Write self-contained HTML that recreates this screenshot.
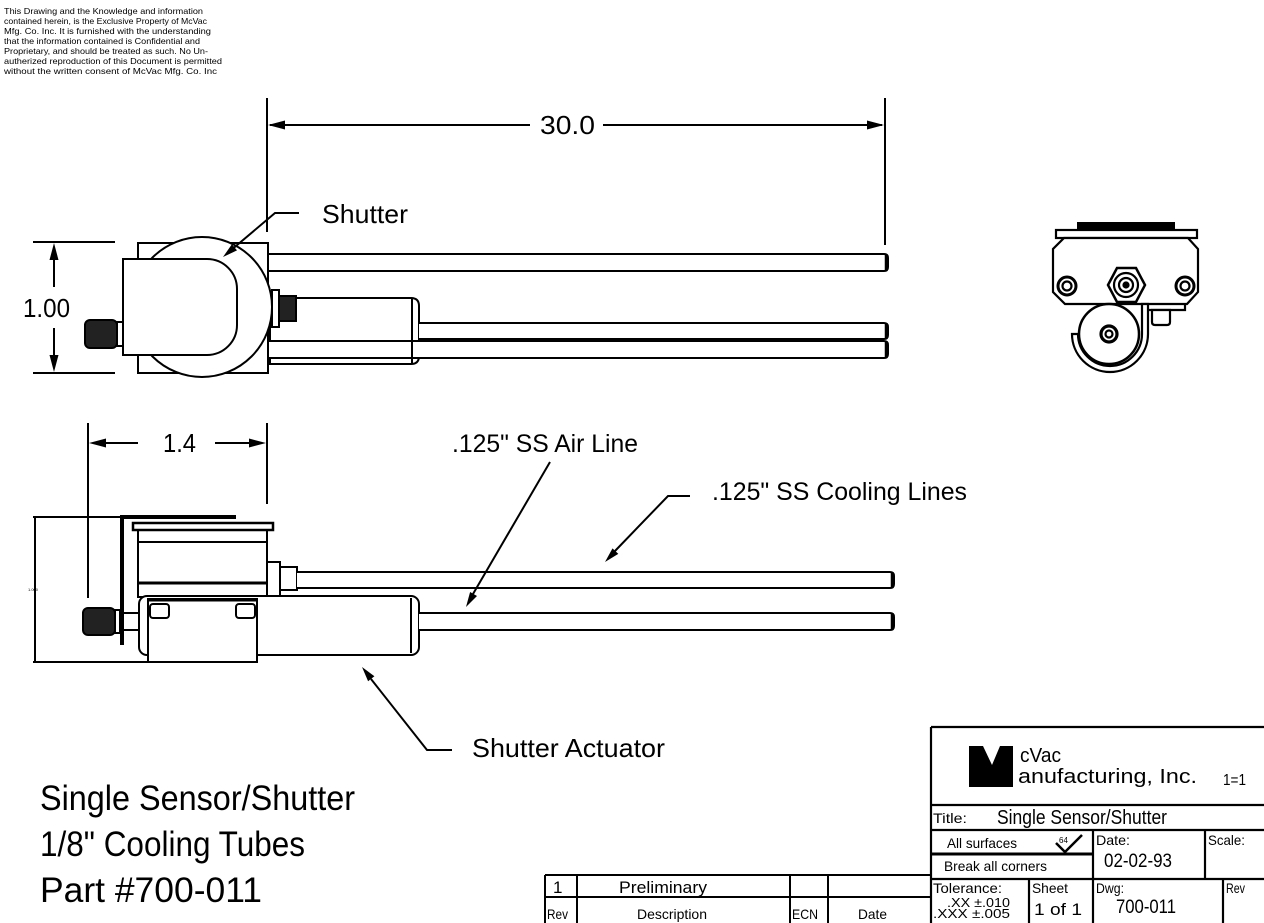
<!DOCTYPE html>
<html><head><meta charset="utf-8"><style>
html,body{margin:0;padding:0;background:#fff;}
svg{display:block;}
text{font-family:"Liberation Sans",sans-serif;fill:#000;}
</style></head><body>
<svg width="1264" height="923" viewBox="0 0 1264 923" xmlns="http://www.w3.org/2000/svg">
<rect width="1264" height="923" fill="#fff"/>

<!-- Legal text -->
<g font-size="8.5">
<text x="4" y="14" textLength="199" lengthAdjust="spacingAndGlyphs">This Drawing and the Knowledge and information</text>
<text x="4" y="24" textLength="203" lengthAdjust="spacingAndGlyphs">contained herein, is the Exclusive Property of McVac</text>
<text x="4" y="34" textLength="207" lengthAdjust="spacingAndGlyphs">Mfg. Co. Inc. It is furnished with the understanding</text>
<text x="4" y="44" textLength="196" lengthAdjust="spacingAndGlyphs">that the information contained is Confidential and</text>
<text x="4" y="54" textLength="204" lengthAdjust="spacingAndGlyphs">Proprietary, and should be treated as such. No Un-</text>
<text x="4" y="64" textLength="218" lengthAdjust="spacingAndGlyphs">autherized reproduction of this Document is permitted</text>
<text x="4" y="74" textLength="213" lengthAdjust="spacingAndGlyphs">without the written consent of McVac Mfg. Co. Inc</text>
</g>

<g stroke="#000" fill="none" stroke-width="2">
<!-- 30.0 dimension -->
<line x1="267" y1="98" x2="267" y2="232"/>
<line x1="885" y1="98" x2="885" y2="245"/>
<line x1="270" y1="125" x2="530" y2="125"/>
<line x1="603" y1="125" x2="882" y2="125"/>
</g>
<polygon points="268,125 285,120.5 285,129.5" fill="#000"/>
<polygon points="884,125 867,120.5 867,129.5" fill="#000"/>
<text x="540" y="134" font-size="26" textLength="55" lengthAdjust="spacingAndGlyphs">30.0</text>

<!-- 1.00 dimension -->
<g stroke="#000" fill="none" stroke-width="2">
<line x1="33" y1="242" x2="115" y2="242"/>
<line x1="33" y1="373" x2="115" y2="373"/>
<line x1="54" y1="255" x2="54" y2="287"/>
<line x1="54" y1="328" x2="54" y2="360"/>
</g>
<polygon points="54,243 49.5,260 58.5,260" fill="#000"/>
<polygon points="54,372 49.5,355 58.5,355" fill="#000"/>
<text x="23" y="317" font-size="26" textLength="47" lengthAdjust="spacingAndGlyphs">1.00</text>

<!-- TOP VIEW -->
<g stroke="#000" stroke-width="2" fill="#fff">
<path d="M268,254 H884 Q888,254 888,258 V267 Q888,271 884,271 H268"/>
<line x1="886.5" y1="255" x2="886.5" y2="270" stroke-width="3.5"/>
<path d="M270,298 H411 Q419,298 419,306 V356 Q419,364 411,364 H270 Z"/>
<path d="M268,341 H884 Q888,341 888,345 V354 Q888,358 884,358 H268"/>
<line x1="886.5" y1="342" x2="886.5" y2="357" stroke-width="3.5"/>
<path d="M419,323 H884 Q888,323 888,327 V335 Q888,339 884,339 H419"/>
<line x1="886.5" y1="324" x2="886.5" y2="338" stroke-width="3.5"/>
<line x1="412" y1="299" x2="412" y2="363" fill="none"/>
<rect x="138" y="243" width="130" height="130"/>
<circle cx="202" cy="307" r="70"/>
<rect x="272" y="290" width="7" height="37"/>
<rect x="279" y="296" width="17" height="25" fill="#222"/>
<path d="M123,259 H207 A30,30 0 0 1 237,289 V325 A30,30 0 0 1 207,355 H123 Z"/>
<rect x="117" y="322" width="6" height="24"/>
<rect x="85" y="320" width="32" height="28" rx="5" fill="#222"/>
</g>

<!-- Shutter label (drawn after top view so arrow is visible) -->
<text x="322" y="223" font-size="26" textLength="86" lengthAdjust="spacingAndGlyphs">Shutter</text>
<polyline points="299,213 275,213 233,248.5" stroke="#000" stroke-width="2" fill="none"/>
<polygon points="223,257 231.9,244.3 237,250.4" fill="#000"/>

<!-- END VIEW -->
<g stroke="#000" stroke-width="2.2" fill="#fff">
<rect x="1077" y="222" width="98" height="7" fill="#000" stroke="none"/>
<rect x="1056" y="230" width="141" height="8"/>
<polygon points="1064,238 1188,238 1198,249 1198,292 1187,304 1065,304 1053,292 1053,249"/>
<polyline points="1148,310 1185,310 1185,304" fill="none"/>
<path d="M1152,310 H1170 V322 Q1170,325 1167,325 H1155 Q1152,325 1152,322 Z"/>
<circle cx="1067" cy="286" r="9" stroke-width="3"/>
<circle cx="1067" cy="286" r="4.5"/>
<circle cx="1185" cy="286" r="9" stroke-width="3"/>
<circle cx="1185" cy="286" r="4.5"/>
<polygon points="1108,285 1117,268 1136,268 1145,285 1136,302 1117,302" stroke-width="2.5"/>
<circle cx="1126" cy="285" r="12"/>
<circle cx="1126" cy="285" r="7"/>
<circle cx="1126" cy="285" r="2.5" fill="#000"/>
<path d="M1148,304 V334 A38,38 0 0 1 1072,334 L1078,334 A32,32 0 0 0 1142,334 V304 Z"/>
<circle cx="1109" cy="334" r="30" stroke-width="2.5"/>
<circle cx="1109" cy="334" r="8" stroke-width="3.2"/>
<circle cx="1109" cy="334" r="3.5"/>
</g>

<!-- 1.4 dimension -->
<g stroke="#000" fill="none" stroke-width="2">
<line x1="88" y1="423" x2="88" y2="598"/>
<line x1="267" y1="423" x2="267" y2="504"/>
<line x1="100" y1="443" x2="138" y2="443"/>
<line x1="215" y1="443" x2="255" y2="443"/>
</g>
<polygon points="89,443 106,438.5 106,447.5" fill="#000"/>
<polygon points="266,443 249,438.5 249,447.5" fill="#000"/>
<text x="163" y="452" font-size="26" textLength="33" lengthAdjust="spacingAndGlyphs">1.4</text>

<!-- big left dimension side view -->
<g stroke="#000" fill="none" stroke-width="2">
<line x1="35" y1="517" x2="35" y2="662"/>
<line x1="33" y1="517" x2="120" y2="517"/>
<line x1="33" y1="662" x2="150" y2="662"/>
</g>
<text x="28" y="591" font-size="4">1.000</text>

<!-- SIDE VIEW -->
<g stroke="#000" stroke-width="2" fill="#fff">
<rect x="267" y="562" width="13" height="34"/>
<rect x="280" y="567" width="17" height="23"/>
<path d="M297,572 H890 Q894,572 894,576 V584 Q894,588 890,588 H297"/>
<line x1="892.5" y1="573" x2="892.5" y2="587" stroke-width="3.5"/>
<rect x="138" y="530" width="129" height="67"/>
<line x1="138" y1="542" x2="267" y2="542"/>
<line x1="138" y1="583" x2="267" y2="583" stroke-width="3"/>
<rect x="133" y="523" width="140" height="7" stroke-width="2.5"/>
<rect x="120" y="613" width="20" height="17"/>
<rect x="139" y="596" width="280" height="59" rx="8"/>
<line x1="411" y1="598" x2="411" y2="653"/>
<path d="M419,613 H890 Q894,613 894,617 V626 Q894,630 890,630 H419"/>
<line x1="892.5" y1="614" x2="892.5" y2="629" stroke-width="3.5"/>
<rect x="148" y="599" width="109" height="63"/>
<line x1="148" y1="600" x2="257" y2="600" stroke-width="3"/>
<rect x="150" y="604" width="19" height="14" rx="3"/>
<rect x="236" y="604" width="19" height="14" rx="3"/>
<rect x="115" y="610" width="5" height="23"/>
<rect x="83" y="608" width="32" height="27" rx="5" fill="#222"/>
</g>
<rect x="120" y="515" width="4" height="130" fill="#000"/>
<rect x="120" y="515" width="116" height="4" fill="#000"/>

<!-- Air line label -->
<text x="452" y="452" font-size="25" textLength="186" lengthAdjust="spacingAndGlyphs">.125" SS Air Line</text>
<line x1="550" y1="462" x2="473" y2="594" stroke="#000" stroke-width="2"/>
<polygon points="466,607 470.1,592 477,596" fill="#000"/>

<!-- Cooling lines label -->
<text x="712" y="500" font-size="25" textLength="255" lengthAdjust="spacingAndGlyphs">.125" SS Cooling Lines</text>
<polyline points="690,496 668,496 615,551" stroke="#000" stroke-width="2" fill="none"/>
<polygon points="605,562 612.5,548.4 618.3,553.9" fill="#000"/>

<!-- Shutter actuator label -->
<text x="472" y="757" font-size="26" textLength="193" lengthAdjust="spacingAndGlyphs">Shutter Actuator</text>
<polyline points="452,750 427,750 371,679" stroke="#000" stroke-width="2" fill="none"/>
<polygon points="362,667 374.4,676.3 368.1,681.3" fill="#000"/>

<!-- Bottom left titles -->
<text x="40" y="810" font-size="35" textLength="315" lengthAdjust="spacingAndGlyphs">Single Sensor/Shutter</text>
<text x="40" y="856" font-size="35" textLength="265" lengthAdjust="spacingAndGlyphs">1/8" Cooling Tubes</text>
<text x="40" y="902" font-size="35" textLength="222" lengthAdjust="spacingAndGlyphs">Part #700-011</text>

<!-- Revision table -->
<g stroke="#000" stroke-width="2" fill="none">
<line x1="545" y1="875" x2="931" y2="875"/>
<line x1="545" y1="897" x2="931" y2="897"/>
<line x1="545" y1="875" x2="545" y2="923"/>
<line x1="577" y1="875" x2="577" y2="923"/>
<line x1="790" y1="875" x2="790" y2="923"/>
<line x1="828" y1="875" x2="828" y2="923"/>
</g>
<text x="553" y="893" font-size="17">1</text>
<text x="619" y="893" font-size="17" textLength="88" lengthAdjust="spacingAndGlyphs">Preliminary</text>
<text x="547" y="919" font-size="14" textLength="21" lengthAdjust="spacingAndGlyphs">Rev</text>
<text x="637" y="919" font-size="14" textLength="70" lengthAdjust="spacingAndGlyphs">Description</text>
<text x="792" y="919" font-size="14" textLength="26" lengthAdjust="spacingAndGlyphs">ECN</text>
<text x="858" y="919" font-size="14" textLength="29" lengthAdjust="spacingAndGlyphs">Date</text>

<!-- Title block -->
<g stroke="#000" stroke-width="2.2" fill="none">
<line x1="931" y1="727" x2="1264" y2="727"/>
<line x1="931" y1="727" x2="931" y2="923"/>
<line x1="931" y1="805" x2="1264" y2="805"/>
<line x1="931" y1="830" x2="1264" y2="830"/>
<line x1="931" y1="854" x2="1093" y2="854" stroke-width="3"/>
<line x1="931" y1="879" x2="1264" y2="879"/>
<line x1="1093" y1="830" x2="1093" y2="923"/>
<line x1="1205" y1="830" x2="1205" y2="879"/>
<line x1="1029" y1="879" x2="1029" y2="923"/>
<line x1="1223" y1="879" x2="1223" y2="923"/>
</g>
<path d="M969,746 H983 L992,765 L1000,746 H1013 V787 H969 Z" fill="#000"/>
<text x="1020" y="762" font-size="20" textLength="41" lengthAdjust="spacingAndGlyphs">cVac</text>
<text x="1018" y="783" font-size="20" textLength="179" lengthAdjust="spacingAndGlyphs">anufacturing, Inc.</text>
<text x="1223" y="785" font-size="16" textLength="23" lengthAdjust="spacingAndGlyphs">1=1</text>
<text x="933" y="823" font-size="14" textLength="34" lengthAdjust="spacingAndGlyphs">Title:</text>
<text x="997" y="824" font-size="20" textLength="170" lengthAdjust="spacingAndGlyphs">Single Sensor/Shutter</text>
<text x="947" y="848" font-size="14" textLength="70" lengthAdjust="spacingAndGlyphs">All surfaces</text>
<text x="1059" y="843" font-size="8">64</text>
<polyline points="1056,843 1065,852 1082,835" stroke="#000" stroke-width="2.5" fill="none"/>
<text x="944" y="871" font-size="14" textLength="103" lengthAdjust="spacingAndGlyphs">Break all corners</text>
<text x="1096" y="845" font-size="14" textLength="34" lengthAdjust="spacingAndGlyphs">Date:</text>
<text x="1104" y="867" font-size="19" textLength="68" lengthAdjust="spacingAndGlyphs">02-02-93</text>
<text x="1208" y="845" font-size="14" textLength="37" lengthAdjust="spacingAndGlyphs">Scale:</text>
<text x="933" y="893" font-size="14" textLength="69" lengthAdjust="spacingAndGlyphs">Tolerance:</text>
<text x="947" y="907" font-size="13" textLength="63" lengthAdjust="spacingAndGlyphs">.XX ±.010</text>
<text x="933" y="918" font-size="13" textLength="77" lengthAdjust="spacingAndGlyphs">.XXX  ±.005</text>
<text x="1032" y="893" font-size="14" textLength="36" lengthAdjust="spacingAndGlyphs">Sheet</text>
<text x="1034" y="915" font-size="17" textLength="48" lengthAdjust="spacingAndGlyphs">1  of  1</text>
<text x="1096" y="893" font-size="14" textLength="28" lengthAdjust="spacingAndGlyphs">Dwg:</text>
<text x="1116" y="913" font-size="19" textLength="60" lengthAdjust="spacingAndGlyphs">700-011</text>
<text x="1226" y="893" font-size="14" textLength="19" lengthAdjust="spacingAndGlyphs">Rev</text>
</svg>
</body></html>
